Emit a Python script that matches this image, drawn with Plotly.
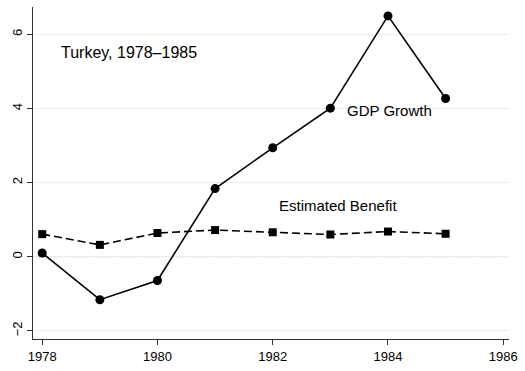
import plotly.graph_objects as go

years = [1978, 1979, 1980, 1981, 1982, 1983, 1984, 1985]
gdp_growth = [0.1, -1.16, -0.64, 1.84, 2.94, 4.01, 6.5, 4.27]
est_benefit = [0.61, 0.32, 0.64, 0.72, 0.66, 0.6, 0.68, 0.62]
x_ticks = [1978, 1980, 1982, 1984, 1986]
y_ticks = [-2, 0, 2, 4, 6]

fig = go.Figure()
fig.add_trace(go.Scatter(
    x=years, y=est_benefit, mode="lines+markers",
    line=dict(color="black", width=1.6, dash="8px,4px"),
    marker=dict(symbol="square", size=8, color="black"),
    name="Estimated Benefit", showlegend=False,
))
fig.add_trace(go.Scatter(
    x=years, y=gdp_growth, mode="lines+markers",
    line=dict(color="black", width=1.6),
    marker=dict(symbol="circle", size=9, color="black"),
    name="GDP Growth", showlegend=False,
))

# dotted reference line at zero
fig.add_shape(type="line", xref="paper", x0=0, x1=1, yref="y", y0=0, y1=0,
              line=dict(color="#9a9a9a", width=1, dash="1px,2px"), layer="below")

family = "Liberation Sans, Arial, sans-serif"
fig.add_annotation(x=1978.29, y=5.52, text="Turkey, 1978–1985", showarrow=False,
                   xanchor="left", font=dict(family=family, size=16, color="black"))
fig.add_annotation(x=1983.25, y=3.95, text="GDP Growth", showarrow=False,
                   xanchor="left", font=dict(family=family, size=15, color="black"))
fig.add_annotation(x=1982.07, y=1.38, text="Estimated Benefit", showarrow=False,
                   xanchor="left", font=dict(family=family, size=15, color="black"))

fig.update_layout(
    width=525, height=371,
    margin=dict(l=33, r=10, t=7, b=26),
    paper_bgcolor="white", plot_bgcolor="white",
    font=dict(family=family, size=13, color="black"),
    xaxis=dict(range=[1977.84, 1986.10], tickvals=x_ticks, showgrid=False,
               showline=True, linecolor="#333333", linewidth=1.2,
               ticks="outside", ticklen=5, tickcolor="#333333", zeroline=False),
    yaxis=dict(range=[-2.22, 6.74], tickvals=y_ticks, tickangle=-90,
               showgrid=True, gridcolor="#e6eff1", gridwidth=1,
               showline=True, linecolor="#333333", linewidth=1.2,
               ticks="outside", ticklen=5, tickcolor="#333333", zeroline=False),
)

fig.write_html("out.html")
